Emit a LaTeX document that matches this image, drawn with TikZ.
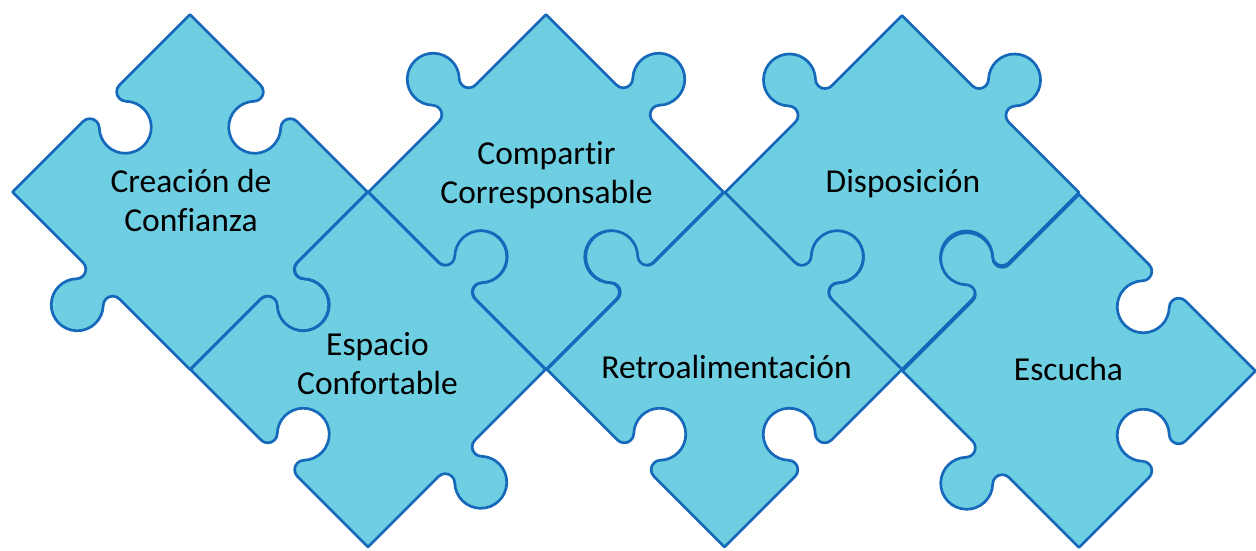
\documentclass[tikz,border=0pt]{standalone}
\usepackage{fontspec}
\setmainfont{Carlito}[Ligatures={NoCommon}]
\definecolor{pfill}{RGB}{110,207,227}
\definecolor{pline}{RGB}{22,104,186}
\newcommand\kX{25.7}
\newcommand\kf{9.5}
\newcommand\kr{26}
\newcommand\kphi{43.6}
% knob on an edge: start x, start y, direction, sign (+1 blank, -1 tab), half diagonal
\newcommand\knob[5]{%
 -- ({#1+(#5*0.70711-\kX)*cos(#3)},{#2+(#5*0.70711-\kX)*sin(#3)})
 arc[start angle={#3-(#4)*90}, end angle={#3+(#4)*\kphi}, radius=\kf]
 arc[start angle={#3+180+(#4)*\kphi}, end angle={#3+180-(#4)*(180+\kphi)}, radius=\kr]
 arc[start angle={#3+180-(#4)*\kphi}, end angle={#3+180+(#4)*90}, radius=\kf]
}
% piece: cx, cy, half diagonal, NE, SE, SW, NW
\newcommand\piece[7]{%
 \draw[piece] ({#1},{#2-#3}) \knob{#1}{#2-#3}{45}{#4}{#3}
 -- ({#1+#3},{#2}) \knob{#1+#3}{#2}{135}{#5}{#3}
 -- ({#1},{#2+#3}) \knob{#1}{#2+#3}{225}{#6}{#3}
 -- ({#1-#3},{#2}) \knob{#1-#3}{#2}{315}{#7}{#3}
 -- cycle;
}
\tikzset{
 piece/.style={fill=pfill, draw=pline, line width=2.7pt, line join=round},
 lbl/.style={font=\fontsize{33.5}{39}\selectfont, align=center, text=black, inner sep=0pt}
}
\begin{document}
\begin{tikzpicture}[x=1pt,y=-1pt]
\useasboundingbox (0,0) rectangle (1256,550);
% top row
\piece{190}{192}{177.5}{1}{-1}{-1}{1}
\piece{546}{192}{177.5}{-1}{1}{1}{-1}
\piece{902}{192.5}{177}{-1}{1}{1}{-1}
% bottom row
\piece{368}{369.5}{177.5}{-1}{-1}{1}{1}
\piece{724.5}{369.5}{177.5}{-1}{1}{1}{-1}
\piece{1079}{371}{176.5}{1}{1}{-1}{-1}
% labels
\node[lbl] (creacion) at (191,200.5) {Creación de\\Confianza};
\node[lbl] (compartir) at (546.5,175) {Compartir\\Corresponsable};
\node[lbl, anchor=base] (disposicion) at (903,192) {Disposición};
\node[lbl] (espacio) at (377.5,363.8) {Espacio\\Confortable};
\node[lbl, anchor=base] (retro) at (726.5,378) {Retroalimentación};
\node[lbl, anchor=base] (escucha) at (1068.5,380) {Escucha};
\end{tikzpicture}
\end{document}
